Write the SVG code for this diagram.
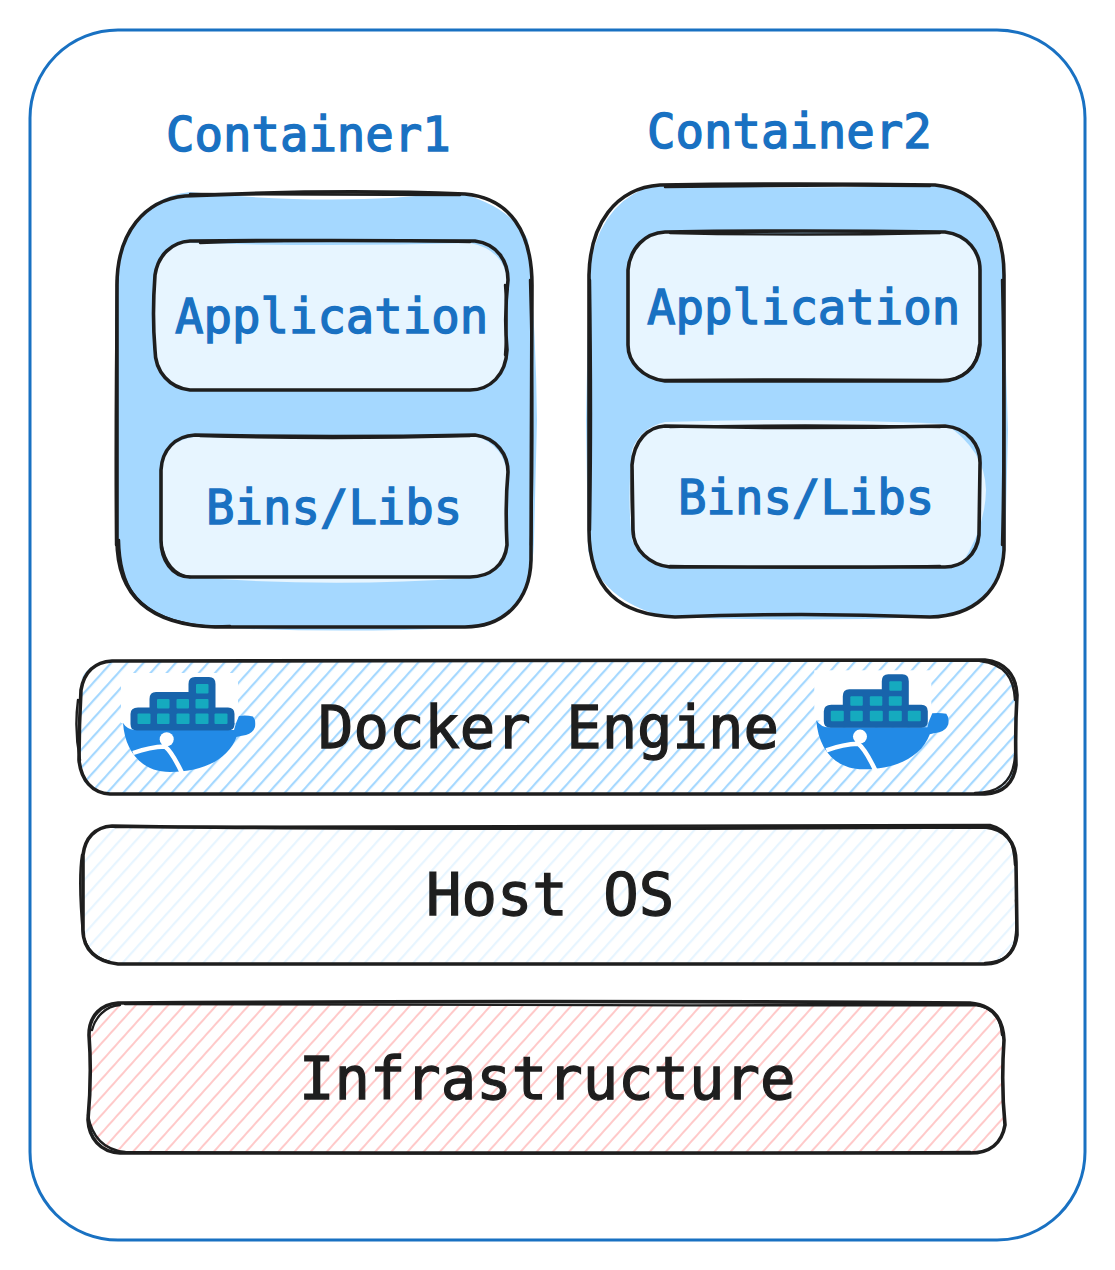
<svg xmlns="http://www.w3.org/2000/svg" xmlns:xlink="http://www.w3.org/1999/xlink" width="1115" height="1270" viewBox="0 0 1115 1270">
<style>
.ink{fill:none;stroke:#1e1e1e;stroke-width:3.6;stroke-linecap:round;stroke-linejoin:round}
.ink2{fill:none;stroke:#1e1e1e;stroke-width:2.4;stroke-linecap:round;stroke-linejoin:round}
.t{font-family:"DejaVu Sans Mono","Liberation Mono",monospace}
.blue{font-size:47.3px;fill:#1971c2;stroke:#1971c2;stroke-width:1.4}
.dark{font-size:58.9px;fill:#1e1e1e;stroke:#1e1e1e;stroke-width:1.3}
.lt{fill:#e7f5ff}
.bl{fill:#a5d8ff}
.hull{fill:#228ae6}
.crate{fill:#1864ab}
.cell{fill:#15aabf}
</style>
<defs>
<pattern id="hDocker" width="12" height="40" patternUnits="userSpaceOnUse" patternTransform="translate(80 660) rotate(42)"><rect x="0" y="0" width="2.2" height="40" fill="#a5d8ff"/></pattern>
<pattern id="hHost" width="12" height="40" patternUnits="userSpaceOnUse" patternTransform="translate(83 826) rotate(42)"><rect x="0" y="0" width="2.2" height="40" fill="#e7f5ff"/></pattern>
<pattern id="hInfra" width="12" height="40" patternUnits="userSpaceOnUse" patternTransform="translate(88 1003) rotate(42)"><rect x="0" y="0" width="2" height="40" fill="#ffc9c9"/></pattern>
<g id="whale">
<rect x="121" y="673" width="117" height="50" fill="#fff"/>
<path class="hull" d="M123,723 Q128,731 138,730 L234,730 Q236,722 239,716 Q246,715 253,716.500 Q256,720 255,727 Q253,733 246,735 Q240,736 236.500,737 C228,760 202,772 170,772 C142,772 125,752 123,723 Z"/>
<path d="M133,753 Q150,747 165,746.500 Q172,752 182,773" fill="none" stroke="#fff" stroke-width="4.500"/>
<circle cx="166.700" cy="739.300" r="7" fill="#fff"/>
<path class="crate" d="M138,707.500 H149.500 V699 Q149.500,692 156,692 H188.500 V684 Q188.500,677 195,677 H209 Q215.500,677 215.500,684 V707.500 H228 Q234.500,707.500 234.500,714 V724 Q234.500,730.500 228,730.500 H137 Q130.500,730.500 130.500,724 V714 Q130.500,707.500 138,707.500 Z"/>
<g class="cell">
<rect x="137.500" y="713.500" width="13" height="10.500" rx="1"/><rect x="157" y="713.500" width="12.500" height="10.500" rx="1"/><rect x="176.500" y="713.500" width="13" height="10.500" rx="1"/><rect x="195.500" y="713.500" width="13" height="10.500" rx="1"/><rect x="214.500" y="713.500" width="13" height="10.500" rx="1"/>
<rect x="157" y="699" width="12.500" height="9.500" rx="1"/><rect x="176.500" y="699" width="12.500" height="9.500" rx="1"/><rect x="195.500" y="699" width="13" height="9.500" rx="1"/>
<rect x="196" y="684" width="12.500" height="9.500" rx="1"/>
</g>
</g>
</defs>

<g id="frame"><rect x="30" y="30" width="1055" height="1210" rx="88" fill="#fff" stroke="#1971c2" stroke-width="3"/></g>

<g id="container1">
<path class="bl" d="M190,192 Q150,196 128,232 Q114,262 115,330 L118,560 Q124,610 190,626 Q320,634 465,628 C515,622 533,590 534,540 L537,420 Q536,330 528,240 Q510,205 455,192 Q340,207 190,192 Z"/>
<path class="ink" d="M185,196 Q335,189 465,194 C510,198 532,232 532,285 L531,560 C530,600 505,627 465,627 L215,627 C155,625 117,600 117,540 L117,285 C117,232 145,200 185,196 Z"/>
<path class="ink2" d="M190,194 Q330,194 460,195 M119,540 C120,585 135,610 180,622 Q200,628 230,626 M117,280 Q115,420 116,545 M530,280 Q534,420 531,545"/>
<text class="t blue" x="166" y="151">Container1</text>
</g>
<g id="app1">
<path class="lt" d="M190,243 Q330,247 470,243 Q508,250 508,290 L508,350 Q500,390 470,390 L190,390 Q155,385 155,350 L155,280 Q160,243 190,243 Z"/>
<path class="ink" d="M190,241 Q330,240 475,241 C498,244 508,262 508,280 Q504,315 507,350 C506,375 490,390 470,390 L190,390 C170,388 155,372 155,350 Q152,315 155,275 C158,255 172,242 190,241 Z"/>
<path class="ink2" d="M200,243 Q330,238 470,242 M505,285 Q508,320 505,355"/>
<text class="t blue" x="175" y="333">Application</text>
</g>
<g id="bins1">
<path class="lt" d="M195,437 Q330,440 475,436 Q506,445 508,480 L508,545 Q500,575 470,578 Q330,588 190,577 Q162,570 160,540 L161,470 Q165,440 195,437 Z"/>
<path class="ink" d="M195,435 Q330,438 475,435 C497,438 508,455 508,472 Q505,505 507,545 C505,565 490,577 470,577 L190,577 C172,577 161,560 161,540 L161,470 C162,450 175,436 195,435 Z"/>
<path class="ink2" d="M200,436 Q330,440 470,436 M161,542 C165,565 175,575 190,577"/>
<text class="t blue" x="206" y="524">Bins/Libs</text>
</g>

<g id="container2">
<path class="bl" d="M655,185 Q800,190 945,185 Q1000,205 1003,275 L1008,430 L1005,555 Q990,612 935,617 Q800,622 665,617 Q600,600 588,550 L586,420 L589,270 Q600,200 655,185 Z"/>
<path class="ink" d="M660,185 Q800,183 935,185 C980,190 1004,225 1004,275 L1004,550 C1002,590 975,616 930,617 Q800,612 675,617 C620,615 589,590 589,530 L589,275 C590,225 615,188 660,185 Z"/>
<path class="ink2" d="M665,187 Q800,185 930,186 M590,280 Q592,420 590,530 M1002,280 Q1005,420 1002,545"/>
<text class="t blue" x="647" y="148">Container2</text>
</g>
<g id="app2">
<path class="lt" d="M665,233 Q800,235 945,233 Q978,240 980,275 L980,345 Q975,378 945,381 L665,381 Q630,376 628,345 L628,270 Q632,235 665,233 Z"/>
<path class="ink" d="M665,232 Q800,230 945,232 C968,235 980,252 980,270 L980,345 C978,368 962,381 940,381 L665,381 C642,378 628,362 628,345 L628,270 C630,248 645,233 665,232 Z"/>
<path class="ink2" d="M670,233 Q800,236 940,233 M660,380 Q800,379 950,380 C970,375 978,362 979,345"/>
<text class="t blue" x="647" y="324">Application</text>
</g>
<g id="bins2">
<path class="lt" d="M665,422 Q800,417 945,424 Q985,450 986,490 Q985,530 960,566 L670,567 Q640,560 632,540 Q627,500 632,450 Q640,428 665,422 Z"/>
<path class="ink" d="M665,426 Q805,429 945,426 C968,428 981,445 980,465 L979,535 C977,555 962,567 945,567 L670,567 C650,565 633,550 633,530 L632,465 C634,440 648,427 665,426 Z"/>
<path class="ink2" d="M670,427 Q805,424 940,427 M670,566 Q805,569 940,566 M632,470 Q631,500 633,535"/>
<text class="t blue" x="678" y="514">Bins/Libs</text>
</g>

<g id="docker-engine">
<path fill="#fff" d="M110,662 H985 Q1016,664 1016,690 V765 Q1016,792 985,794 H110 Q80,792 80,765 V690 Q80,664 110,662 Z"/>
<path fill="url(#hDocker)" d="M110,662 H985 Q1016,664 1016,690 V765 Q1016,792 985,794 H110 Q80,792 80,765 V690 Q80,664 110,662 Z"/>
<use xlink:href="#whale" href="#whale"/>
<use xlink:href="#whale" href="#whale" transform="translate(693.300 -2.700)"/>
<path class="ink" d="M112,661 Q550,660 985,660 C1005,662 1016,675 1017,695 Q1015,730 1016,765 C1014,783 1003,793 985,794 L110,794 C92,793 81,780 79,760 Q79,725 81,690 C84,672 95,662 112,661 Z"/>
<path class="ink2" d="M980,661 C1005,664 1014,678 1015,700 M975,793 C1002,793 1014,778 1015,755 M78,700 Q74,730 80,760"/>
<text class="t dark" x="318" y="748">Docker Engine</text>
</g>
<g id="host-os">
<path fill="#fff" d="M110,828 H985 Q1016,830 1016,860 V935 Q1016,962 985,964 H115 Q84,962 83,935 V860 Q84,830 110,828 Z"/>
<path fill="url(#hHost)" d="M110,828 H985 Q1016,830 1016,860 V935 Q1016,962 985,964 H115 Q84,962 83,935 V860 Q84,830 110,828 Z"/>
<path class="ink" d="M112,826 Q350,830 985,827 C1005,829 1016,842 1016,862 L1017,935 C1015,953 1003,964 985,964 L118,964 C97,962 83,950 83,930 L83,855 C85,838 95,827 112,826 Z"/>
<path class="ink2" d="M115,827 Q500,825 990,825 C1010,830 1014,845 1015,865 M82,855 Q78,880 83,935 C87,950 95,958 110,962 M1016,900 Q1018,930 1014,945 C1010,958 1000,962 985,963"/>
<text class="t dark" x="426" y="915">Host OS</text>
</g>
<g id="infrastructure">
<path fill="#fff" d="M120,1005 H970 Q1004,1007 1004,1035 V1125 Q1002,1152 970,1153 H125 Q90,1150 89,1120 V1035 Q92,1005 120,1005 Z"/>
<path fill="url(#hInfra)" d="M120,1005 H970 Q1004,1007 1004,1035 V1125 Q1002,1152 970,1153 H125 Q90,1150 89,1120 V1035 Q92,1005 120,1005 Z"/>
<path class="ink" d="M118,1003 Q550,1000 970,1003 C992,1005 1003,1018 1004,1040 Q1001,1085 1005,1125 C1002,1143 990,1153 970,1153 L120,1153 C100,1152 89,1138 88,1120 Q92,1075 89,1035 C89,1015 102,1004 118,1003 Z"/>
<path class="ink2" d="M125,1004 Q550,1006 975,1005 C995,1007 1001,1020 1002,1035 M88,1115 C92,1138 105,1150 125,1152 M125,1152 Q550,1155 970,1152 M92,1030 C95,1018 105,1006 120,1005"/>
<text class="t dark" x="299" y="1099">Infrastructure</text>
</g>
</svg>
